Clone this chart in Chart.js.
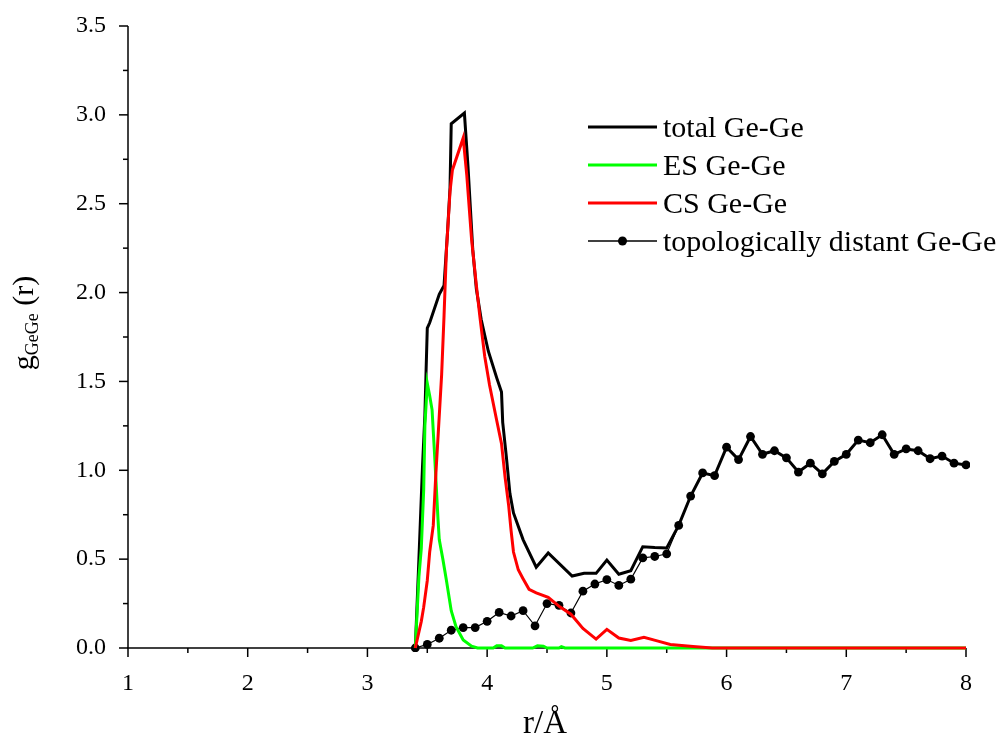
<!DOCTYPE html>
<html><head><meta charset="utf-8">
<script src="https://cdn.jsdelivr.net/npm/chart.js@4.4.1/dist/chart.umd.min.js"></script>
<style>html,body{margin:0;padding:0;background:#fff;}#wrap{width:1005px;height:738px;}</style>
</head><body><div id="wrap"><canvas id="c" width="1005" height="738"></canvas></div>
<script>
const FONT = "'Liberation Serif','Times New Roman',serif";
const xTicks = [1,2,3,4,5,6,7,8];
const xMinor = [1.5,2.5,3.5,4.5,5.5,6.5,7.5];
const yTicks = [0,0.5,1,1.5,2,2.5,3,3.5];
const yMinor = [0.25,0.75,1.25,1.75,2.25,2.75,3.25];
const seriesLabels = ['total Ge-Ge','ES Ge-Ge','CS Ge-Ge','topologically distant Ge-Ge'];

const totalR = [3.40,3.43,3.46,3.48,3.49,3.50,3.52,3.60,3.64,3.67,3.69,3.70,3.81,3.84,3.88,3.91,3.95,4.01,4.08,4.12,4.13,4.16,4.19,4.22,4.30,4.41,4.51,4.71,4.81,4.91,5.00,5.10,5.20,5.30,5.40,5.50,5.6,5.7,5.8,5.9,6.0,6.1,6.2,6.3,6.4,6.5,6.6,6.7,6.8,6.9,7.0,7.1,7.2,7.3,7.4,7.5,7.6,7.7,7.8,7.9,8.0];
const totalG = [0,0.5,1.02,1.31,1.56,1.8,1.83,1.99,2.04,2.35,2.59,2.95,3.01,2.71,2.24,2.02,1.85,1.67,1.52,1.44,1.27,1.08,0.87,0.76,0.61,0.455,0.535,0.405,0.42,0.42,0.495,0.415,0.435,0.57,0.565,0.563,0.69,0.855,0.985,0.97,1.13,1.06,1.19,1.09,1.11,1.07,0.99,1.04,0.98,1.05,1.09,1.17,1.155,1.2,1.09,1.12,1.11,1.065,1.08,1.04,1.03];

const esR = [3.40,3.43,3.45,3.47,3.48,3.50,3.52,3.54,3.56,3.59,3.60,3.63,3.66,3.70,3.74,3.80,3.87,3.92,4.05,4.08,4.12,4.15,4.38,4.42,4.47,4.50,4.60,4.62,4.65,8.00];
const esG = [0,0.40,0.56,0.89,1.25,1.49,1.42,1.34,1.10,0.72,0.61,0.50,0.38,0.21,0.12,0.045,0.01,0,0,0.012,0.012,0,0,0.012,0.01,0,0,0.008,0,0];

const csR = [3.40,3.45,3.47,3.50,3.52,3.55,3.57,3.59,3.62,3.64,3.66,3.69,3.71,3.80,3.83,3.87,3.91,3.94,3.98,4.02,4.08,4.12,4.15,4.18,4.20,4.22,4.26,4.30,4.35,4.41,4.51,4.61,4.70,4.80,4.91,5.00,5.10,5.20,5.31,5.42,5.53,5.72,5.88,8.00];
const csG = [0,0.15,0.23,0.38,0.54,0.69,0.96,1.19,1.54,1.87,2.24,2.57,2.69,2.87,2.66,2.30,2.04,1.86,1.64,1.48,1.28,1.15,0.96,0.80,0.66,0.54,0.44,0.39,0.33,0.31,0.285,0.23,0.19,0.11,0.05,0.105,0.056,0.042,0.06,0.04,0.02,0.008,0,0];

const topoR = [3.4,3.5,3.6,3.7,3.8,3.9,4.0,4.1,4.2,4.3,4.4,4.5,4.6,4.7,4.8,4.9,5.0,5.1,5.2,5.3,5.4,5.5,5.6,5.7,5.8,5.9,6.0,6.1,6.2,6.3,6.4,6.5,6.6,6.7,6.8,6.9,7.0,7.1,7.2,7.3,7.4,7.5,7.6,7.7,7.8,7.9,8.0];
const topoG = [0,0.02,0.055,0.10,0.115,0.115,0.15,0.2,0.18,0.21,0.125,0.25,0.24,0.197,0.32,0.36,0.385,0.352,0.387,0.507,0.515,0.53,0.69,0.855,0.985,0.97,1.13,1.06,1.19,1.09,1.11,1.07,0.99,1.04,0.98,1.05,1.09,1.17,1.155,1.2,1.09,1.12,1.11,1.065,1.08,1.04,1.03];

const pts = (r, g) => r.map((v, i) => ({x: v, y: g[i]}));

const decor = {
  id: 'decor',
  beforeDatasetsDraw(chart) {
    const ctx = chart.ctx, xs = chart.scales.x, ys = chart.scales.y, a = chart.chartArea;
    ctx.save();
    ctx.strokeStyle = '#000';
    ctx.lineWidth = 1.5;
    const seg = (x1, y1, x2, y2) => { ctx.beginPath(); ctx.moveTo(x1, y1); ctx.lineTo(x2, y2); ctx.stroke(); };
    seg(a.left, a.top, a.left, a.bottom);
    seg(a.left - 1, a.bottom, a.right, a.bottom);
    yTicks.forEach(v => { const y = ys.getPixelForValue(v); seg(a.left - 9, y, a.left, y); });
    yMinor.forEach(v => { const y = ys.getPixelForValue(v); seg(a.left - 5, y, a.left, y); });
    xTicks.forEach(v => { const x = xs.getPixelForValue(v); seg(x, a.bottom, x, a.bottom + 9); });
    xMinor.forEach(v => { const x = xs.getPixelForValue(v); seg(x, a.bottom, x, a.bottom + 5); });
    ctx.restore();
  },
  afterDraw(chart) {
    const ctx = chart.ctx;
    ctx.save();
    const seg = (x1, y1, x2, y2) => { ctx.beginPath(); ctx.moveTo(x1, y1); ctx.lineTo(x2, y2); ctx.stroke(); };
    ctx.fillStyle = '#000';
    // x title
    ctx.font = '33px ' + FONT;
    ctx.textAlign = 'center';
    ctx.textBaseline = 'alphabetic';
    ctx.fillText('r/Å', 545, 733);

    // y title (rotated)
    ctx.save();
    ctx.translate(33, 323);
    ctx.rotate(-Math.PI / 2);
    const bigF = '30px ' + FONT, smallF = '18px ' + FONT;
    ctx.font = bigF; const wg = ctx.measureText('g').width;
    ctx.font = smallF; const ws = ctx.measureText('GeGe').width;
    ctx.font = bigF; const wr = ctx.measureText(' (r)').width;
    let x0 = -(wg + ws + wr) / 2;
    ctx.textAlign = 'left';
    ctx.font = bigF; ctx.fillText('g', x0, 0); x0 += wg;
    ctx.font = smallF; ctx.fillText('GeGe', x0, 5); x0 += ws;
    ctx.font = bigF; ctx.fillText(' (r)', x0, 0);
    ctx.restore();

    // legend
    const lx1 = 588, lx2 = 657, tx = 663;
    chart.data.datasets.forEach((ds, i) => {
      const y = 127 + i * 38;
      ctx.strokeStyle = ds.borderColor;
      ctx.lineWidth = ds.pointRadius > 0 ? 1.5 : 3;
      seg(lx1, y, lx2, y);
      if (ds.pointRadius > 0) {
        ctx.fillStyle = ds.pointBackgroundColor;
        ctx.beginPath(); ctx.arc((lx1 + lx2) / 2, y, 4.5, 0, Math.PI * 2); ctx.fill();
      }
      ctx.fillStyle = '#000';
      ctx.font = '30px ' + FONT;
      ctx.textAlign = 'left';
      ctx.textBaseline = 'alphabetic';
      ctx.fillText(ds.label, tx, y + 10);
    });
    ctx.restore();
  }
};

new Chart(document.getElementById('c'), {
  type: 'line',
  data: {
    datasets: [
      {label: seriesLabels[0], data: pts(totalR, totalG), borderColor: '#000000', borderWidth: 3, pointRadius: 0, tension: 0, order: 4, clip: 4},
      {label: seriesLabels[1], data: pts(esR, esG), borderColor: '#00ff00', borderWidth: 3, pointRadius: 0, tension: 0, order: 2, clip: 4},
      {label: seriesLabels[2], data: pts(csR, csG), borderColor: '#ff0000', borderWidth: 3, pointRadius: 0, tension: 0, order: 1, clip: 4},
      {label: seriesLabels[3], data: pts(topoR, topoG), borderColor: '#000000', borderWidth: 1.2, pointRadius: 4.4, pointBackgroundColor: '#000000', pointBorderWidth: 0, pointStyle: 'circle', tension: 0, order: 3, clip: 4}
    ]
  },
  options: {
    responsive: false,
    animation: false,
    devicePixelRatio: 1,
    layout: {padding: {top: 26, right: 39, left: 0, bottom: 0}},
    plugins: {legend: {display: false}, tooltip: {enabled: false}, title: {display: false}},
    scales: {
      x: {
        type: 'linear', min: 1, max: 8,
        afterBuildTicks: s => { s.ticks = xTicks.map(v => ({value: v})); },
        ticks: {color: '#000', font: {family: FONT, size: 24}, padding: 0, maxRotation: 0, callback: v => String(v)},
        grid: {display: false, drawTicks: true, tickLength: 21},
        border: {display: false},
        afterFit: s => { s.height = 90; }
      },
      y: {
        min: 0, max: 3.5,
        afterBuildTicks: s => { s.ticks = yTicks.map(v => ({value: v})); },
        ticks: {color: '#000', font: {family: FONT, size: 24}, padding: 0, callback: v => Number(v).toFixed(1)},
        grid: {display: false, drawTicks: true, tickLength: 22},
        border: {display: false},
        afterFit: s => { s.width = 128; }
      }
    }
  },
  plugins: [decor]
});
</script>
</body></html>
